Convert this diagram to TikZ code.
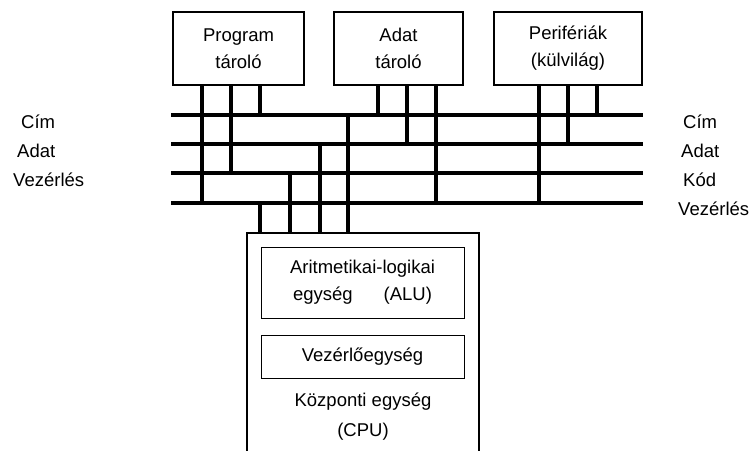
\documentclass[tikz,border=0pt]{standalone}
\usepackage{fontspec}
\setmainfont{Liberation Sans}
\usepackage{tikz}
\usetikzlibrary{calc,positioning}

\begin{document}
\begin{tikzpicture}[x=1pt,y=-1pt]

\tikzset{
  txt/.style={font=\fontsize{18.5}{27}\selectfont, align=center, inner sep=0pt},
  unit/.style={draw=black, line width=2pt, txt},
  subunit/.style={draw=black, line width=1pt, txt},
  busline/.style={black, line width=4pt},
  tap/.style={black, line width=4pt},
  buslabel/.style={font=\fontsize{18.5}{22}\selectfont, inner sep=0pt}
}

\useasboundingbox (0,0) rectangle (752,450);

% Top row: memories and peripherals
\node[unit, minimum width=131pt, minimum height=73pt] (prog) at (238.5,48.5) {Program\\tároló};
\node[unit, minimum width=129pt, minimum height=73pt] (adat) at (398.5,48.5) {Adat\\tároló};
\node[unit, minimum width=148pt, minimum height=73pt] (peri) at (568,48.5) {Perifériák\\(külvilág)};

% CPU (open at the bottom)
\node[minimum width=232pt, minimum height=240pt, anchor=north, inner sep=0pt] (cpu) at (363,233) {};
\draw[line width=2pt] (cpu.south west) -- (cpu.north west) -- (cpu.north east) -- (cpu.south east);
\node[subunit, minimum width=203pt, minimum height=71pt] (alu) at (362.5,282.5) {Aritmetikai-logikai\\egység\hspace{31pt}(ALU)};
\node[subunit, minimum width=203pt, minimum height=43pt] (ctrl) at (362.5,356.5) {Vezérlőegység};
\node[txt, font=\fontsize{18.5}{30}\selectfont] (cpulabel) at (363,417) {Központi egység\\(CPU)};

% Buses
\coordinate (cim-l) at (171,115);  \coordinate (cim-r) at (643,115);
\coordinate (adat-l) at (171,144); \coordinate (adat-r) at (643,144);
\coordinate (kod-l) at (171,173);  \coordinate (kod-r) at (643,173);
\coordinate (vez-l) at (171,203);  \coordinate (vez-r) at (643,203);
\foreach \bus in {cim,adat,kod,vez}
  \draw[busline] (\bus-l) -- (\bus-r);

% Bus labels
\node[buslabel, anchor=base west] (lcim) at (21,128) {Cím};
\node[buslabel, anchor=base west] (ladat) at (17,157) {Adat};
\node[buslabel, anchor=base west] (lvez) at (13,186) {Vezérlés};
\node[buslabel, anchor=base west] (rcim) at (683,128) {Cím};
\node[buslabel, anchor=base west] (radat) at (681,157) {Adat};
\node[buslabel, anchor=base west] (rkod) at (683,186) {Kód};
\node[buslabel, anchor=base west] (rvez) at (678,215) {Vezérlés};

% Taps onto the buses
\foreach \x/\bus in {202/vez,231/kod,260/cim}
  \draw[tap] (prog.south -| \x,0) -- (\bus-l -| \x,0);
\foreach \x/\bus in {378/cim,407/adat,436/vez}
  \draw[tap] (adat.south -| \x,0) -- (\bus-l -| \x,0);
\foreach \x/\bus in {539/vez,568/adat,597/cim}
  \draw[tap] (peri.south -| \x,0) -- (\bus-l -| \x,0);
\foreach \x/\bus in {260/vez,290/kod,320/adat,348/cim}
  \draw[tap] (cpu.north -| \x,0) -- (\bus-l -| \x,0);

\end{tikzpicture}
\end{document}
